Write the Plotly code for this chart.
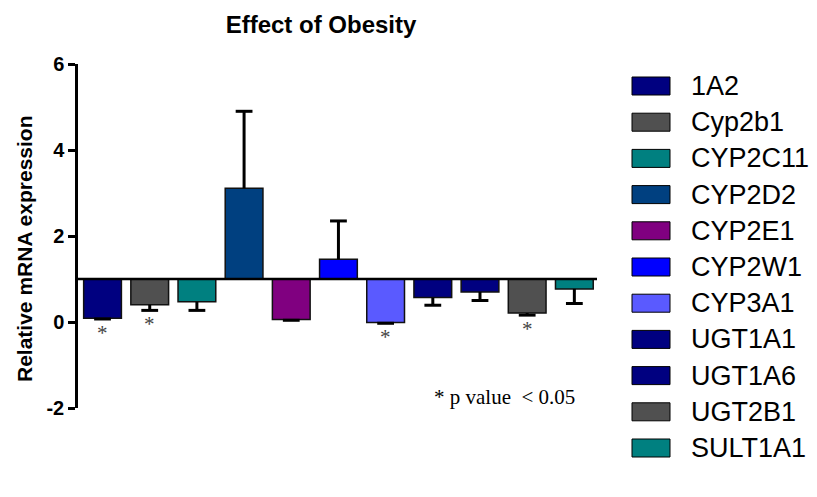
import plotly.graph_objects as go

# Relative mRNA expression (obese vs. control, control = 1)
genes = ["1A2", "Cyp2b1", "CYP2C11", "CYP2D2", "CYP2E1", "CYP2W1",
         "CYP3A1", "UGT1A1", "UGT1A6", "UGT2B1", "SULT1A1"]
expression = [0.09, 0.40, 0.47, 3.11, 0.06, 1.46, -0.01, 0.57, 0.70, 0.21, 0.77]
sem = [0.02, 0.13, 0.20, 1.79, 0.02, 0.89, 0.02, 0.18, 0.20, 0.05, 0.34]
significant = [True, True, False, False, False, False, True, False, False, True, False]
colors = ["#000080", "#505050", "#008080", "#004080", "#800080", "#0000FF",
          "#5A5AFF", "#000080", "#000080", "#505050", "#008080"]
baseline = 1.0
y_ticks = [-2, 0, 2, 4, 6]
y_tick_labels = ["-2", "0", "2", "4", "6"]

# plot area in pixels (used to place paper-referenced decorations)
W, H = 817, 497
L, R, T, B = 78, 597, 64, 408


def px_x(p):
    return (p - L) / (R - L)


def px_y(p):
    return (B - p) / (B - T)


idx = list(range(len(genes)))
# error bars point away from the baseline
tips = [v + e if v > baseline else v - e for v, e in zip(expression, sem)]

fig = go.Figure()
fig.add_trace(go.Bar(
    x=idx, y=[v - baseline for v in expression], base=baseline,
    width=0.8, marker=dict(color=colors, line=dict(color="#111111", width=1.5)),
    showlegend=False, hoverinfo="skip",
))

# error bar stems
stem_x, stem_y = [], []
for i, v, t in zip(idx, expression, tips):
    stem_x += [i, i, None]
    stem_y += [v, t, None]
fig.add_trace(go.Scatter(
    x=stem_x, y=stem_y, mode="lines",
    line=dict(color="black", width=3), showlegend=False, hoverinfo="skip",
))
# error bar caps
fig.add_trace(go.Scatter(
    x=idx, y=tips, mode="markers",
    marker=dict(symbol="line-ew", size=12, line=dict(color="black", width=3)),
    showlegend=False, hoverinfo="skip",
))

# baseline at 1
fig.add_shape(type="line", xref="x domain", yref="y", x0=0, x1=1,
              y0=baseline, y1=baseline, line=dict(color="black", width=2.5))

# significance marks
for i, t, s in zip(idx, tips, significant):
    if s:
        fig.add_annotation(x=i, y=t, xref="x", yref="y", text="*",
                           showarrow=False, yanchor="middle", yshift=-14,
                           font=dict(family="Liberation Serif", size=21, color="#444444"))

fig.add_annotation(x=px_x(504), y=px_y(397), xref="paper", yref="paper",
                   text="* p value&nbsp;&nbsp;&lt; 0.05", showarrow=False,
                   xanchor="center", yanchor="middle",
                   font=dict(family="Liberation Serif", size=21, color="black"))

# y-axis title
fig.add_annotation(x=px_x(24), y=px_y(249), xref="paper", yref="paper",
                   text="<b>Relative mRNA expression</b>", textangle=-90,
                   showarrow=False, xanchor="center", yanchor="middle",
                   font=dict(family="Liberation Sans", size=21, color="black"))

# legend drawn as boxes + labels
row0, row_gap = 86, 36.2
for k, (g, c) in enumerate(zip(genes, colors)):
    cy = row0 + k * row_gap
    fig.add_shape(type="rect", xref="paper", yref="paper",
                  x0=px_x(632), x1=px_x(670), y0=px_y(cy + 9), y1=px_y(cy - 9),
                  fillcolor=c, line=dict(color="black", width=1))
    fig.add_annotation(x=px_x(689), y=px_y(cy), xref="paper", yref="paper",
                       text=g, showarrow=False, xanchor="left", yanchor="middle",
                       font=dict(family="Liberation Sans", size=27, color="black"))

fig.update_layout(
    width=W, height=H,
    margin=dict(l=L, r=W - R, t=T, b=H - B),
    paper_bgcolor="white", plot_bgcolor="white",
    title=dict(text="<b>Effect of Obesity</b>", x=px_x(321), xref="paper",
               xanchor="center", y=1 - 25 / H, yanchor="middle",
               font=dict(family="Liberation Sans", size=24, color="black")),
    xaxis=dict(range=[-0.52, 10.48], showticklabels=False, showgrid=False,
               zeroline=False, showline=False, ticks=""),
    yaxis=dict(range=[-2, 6], tickvals=y_ticks, ticktext=y_tick_labels,
               showgrid=False, zeroline=False,
               showline=True, linecolor="black", linewidth=2.5,
               ticks="outside", ticklen=7, tickwidth=2.5, tickcolor="black",
               tickfont=dict(family="Liberation Sans", size=20, color="black",
                             weight="bold")),
    bargap=0.2,
)

fig.write_html("out.html")
